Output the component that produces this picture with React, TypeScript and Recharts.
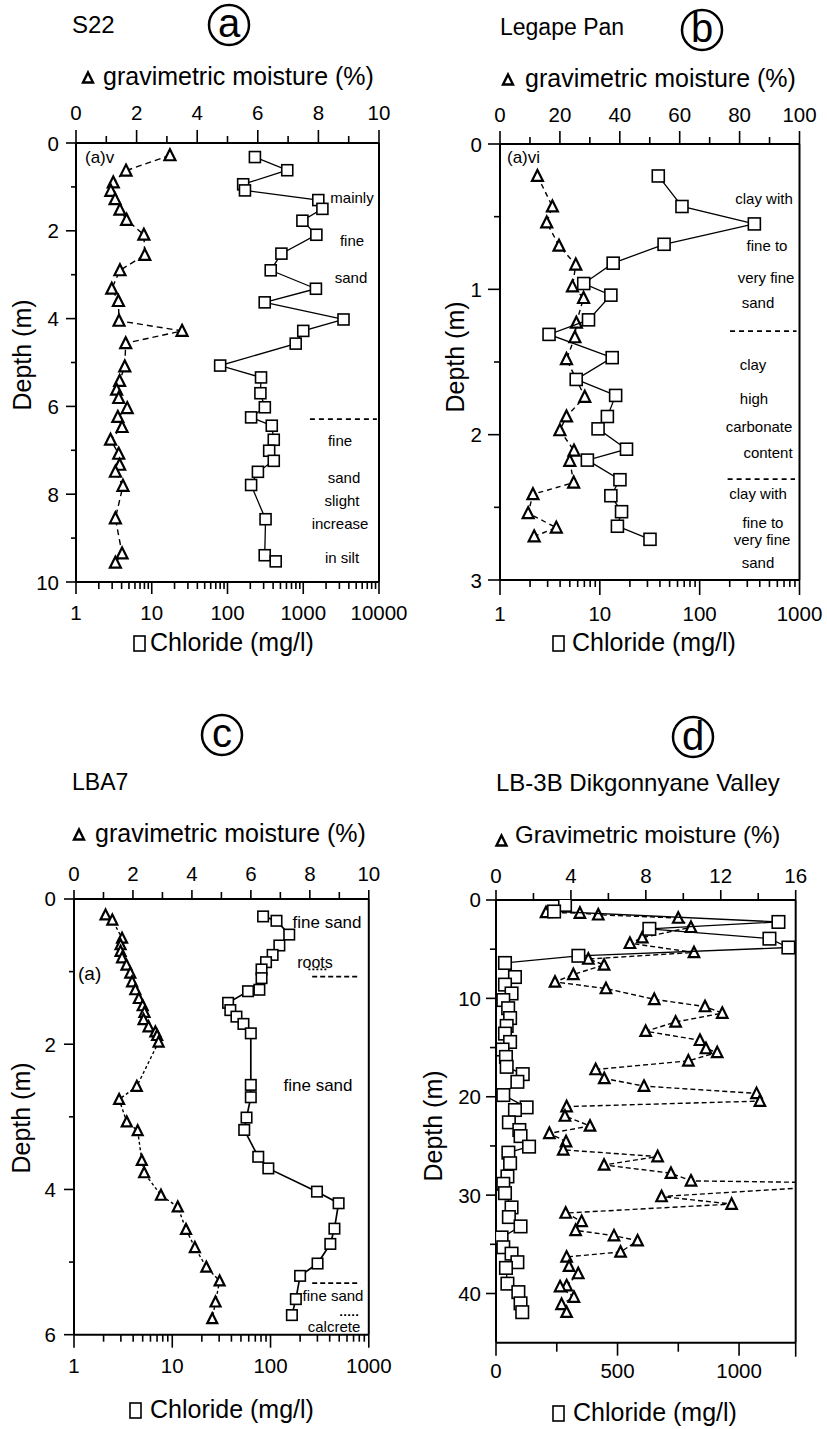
import React from "react";
import { ScatterChart, Scatter, XAxis, YAxis, ReferenceLine } from "recharts";

const FONT = '"Liberation Sans", Arial, Helvetica, sans-serif';

// (a) S22 — depth (m) vs gravimetric moisture (%) and chloride (mg/l)
const aMoistDepth = [0.28, 0.63, 0.9, 1.09, 1.28, 1.52, 1.75, 2.09, 2.55, 2.9, 3.32, 3.6, 4.05, 4.28, 4.56, 5.09, 5.42, 5.62, 5.81, 6.04, 6.24, 6.47, 6.76, 7.08, 7.33, 7.49, 7.81, 8.55, 9.35, 9.56];
const aMoist = [3.1, 1.65, 1.23, 1.15, 1.29, 1.45, 1.67, 2.24, 2.27, 1.45, 1.18, 1.4, 1.42, 3.5, 1.64, 1.61, 1.44, 1.34, 1.41, 1.69, 1.38, 1.52, 1.14, 1.41, 1.44, 1.3, 1.55, 1.3, 1.52, 1.3];
const aClDepth = [0.32, 0.62, 0.94, 1.08, 1.3, 1.5, 1.77, 2.09, 2.52, 2.9, 3.32, 3.63, 4.02, 4.28, 4.57, 5.07, 5.34, 5.7, 6.02, 6.25, 6.44, 6.76, 7.01, 7.24, 7.49, 7.79, 8.57, 9.39, 9.53];
const aCl = [230, 615, 161, 170, 1580, 1790, 975, 1490, 515, 372, 1470, 310, 3400, 1000, 795, 80, 277, 272, 311, 205, 384, 408, 355, 408, 252, 205, 318, 310, 433];

// (b) Legape Pan
const bMoistDepth = [0.22, 0.43, 0.54, 0.7, 0.83, 0.98, 1.06, 1.23, 1.33, 1.48, 1.74, 1.875, 1.97, 2.11, 2.18, 2.33, 2.41, 2.54, 2.64, 2.7];
const bMoist = [12.5, 17.5, 15.6, 19.7, 25.3, 24.2, 27.9, 25.5, 25.0, 22.2, 28.3, 22.2, 20.0, 24.7, 23.3, 24.6, 11.0, 9.4, 18.8, 11.4];
const bClDepth = [0.22, 0.43, 0.55, 0.69, 0.82, 0.96, 1.04, 1.21, 1.31, 1.47, 1.62, 1.73, 1.875, 1.96, 2.1, 2.175, 2.31, 2.42, 2.53, 2.63, 2.72];
const bCl = [38.5, 66.5, 353, 44, 13.6, 6.9, 12.9, 7.7, 3.1, 13.3, 5.8, 14.4, 11.9, 9.6, 18.5, 7.5, 15.9, 12.9, 16.5, 15.0, 31.8];

// (c) LBA7
const cMoistDepth = [0.22, 0.29, 0.54, 0.63, 0.72, 0.81, 0.91, 1.02, 1.14, 1.25, 1.37, 1.47, 1.56, 1.66, 1.76, 1.83, 1.88, 1.97, 2.58, 2.76, 3.07, 3.19, 3.6, 3.77, 4.08, 4.24, 4.55, 4.8, 5.07, 5.26, 5.55, 5.78];
const cMoist = [1.07, 1.3, 1.63, 1.58, 1.58, 1.63, 1.78, 1.91, 1.97, 2.08, 2.2, 2.33, 2.39, 2.36, 2.53, 2.76, 2.82, 2.87, 2.13, 1.53, 1.79, 2.16, 2.3, 2.38, 2.95, 3.52, 3.8, 4.1, 4.49, 4.94, 4.8, 4.69];
const cClDepth = [0.24, 0.3, 0.49, 0.64, 0.77, 0.87, 0.97, 1.09, 1.25, 1.27, 1.43, 1.53, 1.62, 1.72, 1.85, 2.56, 2.73, 3.01, 3.18, 3.55, 3.71, 4.03, 4.19, 4.54, 4.75, 5.02, 5.19, 5.51, 5.73];
const cCl = [84, 115, 155, 123, 105, 90, 81, 81, 77, 59, 37, 39, 45, 53, 63, 63, 63, 57, 54, 75, 95, 297, 493, 447, 406, 301, 200, 181, 165];

// (d) LB-3B Dikgonnyane Valley (one moisture reading near 29 m is off the scale)
const dMoistDepth = [1.27, 1.33, 1.5, 1.83, 2.77, 3.83, 4.4, 5.33, 6.0, 6.6, 7.57, 8.33, 9.0, 10.1, 10.83, 11.5, 12.4, 13.34, 14.26, 15.1, 15.5, 16.35, 17.23, 18.14, 18.92, 19.66, 20.44, 21.0, 21.96, 22.97, 23.72, 24.56, 25.4, 26.08, 26.93, 27.77, 28.55, 28.8, 30.14, 30.91, 31.82, 32.67, 33.58, 34.12, 34.63, 35.78, 36.28, 37.23, 37.97, 39.2, 39.3, 40.37, 41.1, 41.9];
const dMoist = [2.67, 4.48, 5.46, 9.73, 10.41, 7.81, 7.15, 10.57, 4.93, 5.77, 4.13, 3.15, 5.87, 8.45, 11.16, 12.08, 9.59, 7.99, 10.89, 11.21, 11.81, 10.27, 5.32, 5.78, 7.9, 13.91, 14.09, 3.77, 3.68, 5.02, 2.85, 3.74, 3.59, 8.63, 5.77, 9.34, 10.41, 20.3, 8.84, 12.58, 3.72, 4.57, 4.25, 6.3, 7.56, 6.65, 3.77, 3.9, 4.39, 3.77, 3.42, 4.16, 3.5, 3.77];
const dClDepth = [0.5, 1.17, 2.23, 2.93, 3.93, 4.83, 5.67, 6.4, 7.83, 8.6, 9.5, 10.17, 11.0, 12.0, 12.8, 13.58, 14.43, 15.2, 15.95, 16.96, 17.7, 18.48, 19.83, 21.08, 21.35, 22.6, 23.38, 24.0, 25.07, 25.68, 26.76, 28.1, 28.85, 29.8, 31.25, 32.23, 33.18, 34.3, 35.3, 35.95, 36.82, 37.4, 39.0, 39.86, 41.0, 41.9];
const dCl = [284, 239, 1162, 631, 1125, 1203, 339, 37, 78, 37, 64, 30, 50, 58, 44, 37, 58, 27, 41, 44, 110, 88, 30, 126, 78, 53, 96, 101, 136, 51, 58, 47, 30, 37, 64, 53, 101, 23, 30, 64, 88, 41, 47, 92, 101, 108];

// ticks
const aMoistTicks = [0, 1, 2, 3, 4, 5, 6, 7, 8, 9, 10];
const aMoistLabels = [0, 2, 4, 6, 8, 10];
const aClDecades = [1, 10, 100, 1000, 10000];
const aDepthTicks = [0, 1, 2, 3, 4, 5, 6, 7, 8, 9, 10];
const aDepthLabels = [0, 2, 4, 6, 8, 10];
const bMoistTicks = [0, 10, 20, 30, 40, 50, 60, 70, 80, 90, 100];
const bMoistLabels = [0, 20, 40, 60, 80, 100];
const bClDecades = [1, 10, 100, 1000];
const bDepthTicks = [0, 0.5, 1, 1.5, 2, 2.5, 3];
const bDepthLabels = [0, 1, 2, 3];
const cMoistTicks = [0, 1, 2, 3, 4, 5, 6, 7, 8, 9, 10];
const cMoistLabels = [0, 2, 4, 6, 8, 10];
const cClDecades = [1, 10, 100, 1000];
const cDepthTicks = [0, 1, 2, 3, 4, 5, 6];
const cDepthLabels = [0, 2, 4, 6];
const dMoistTicks = [0, 2, 4, 6, 8, 10, 12, 14, 16];
const dMoistLabels = [0, 4, 8, 12, 16];
const dClMax = 1233;
const dClTicks = [0, 250, 500, 750, 1000, dClMax];
const dClLabels = [0, 500, 1000];
const dDepthTicks = [0, 5, 10, 15, 20, 25, 30, 35, 40];
const dDepthLabels = [0, 10, 20, 30, 40];
const logMinor = [2, 3, 4, 5, 6, 7, 8, 9];

function logTicks(decades: number[]) {
  const out: number[] = [];
  decades.forEach((d, i) => {
    out.push(d);
    if (i < decades.length - 1) logMinor.forEach((k) => out.push(d * k));
  });
  return out;
}

const zip = (ds: number[], vs: number[], key: string) => ds.map((d, i) => ({ d, [key]: vs[i] }));

type Side = "top" | "bottom" | "left" | "right";

function makeTick(side: Side, len: (v: number) => number, labels: number[], off: number) {
  return (p: any) => {
    const { x, y, payload } = p;
    const v = payload.value;
    const l = len(v);
    let x2 = x, y2 = y, tx = x, ty = y;
    let anchor = "middle", base = "alphabetic";
    if (side === "top") { y2 = y - l; ty = y - off; }
    if (side === "bottom") { y2 = y + l; ty = y + off; }
    if (side === "left") { x2 = x - l; tx = x - off; anchor = "end"; base = "central"; }
    if (side === "right") { x2 = x + l; }
    return (
      <g>
        <line x1={x} y1={y} x2={x2} y2={y2} stroke="#000" strokeWidth={1.6} />
        {labels.includes(v) && (
          <text x={tx} y={ty} textAnchor={anchor as any} dominantBaseline={base as any} fontSize={20.5} fontFamily={FONT} fill="#000">
            {v}
          </text>
        )}
      </g>
    );
  };
}

const triShape = (s: number) => (p: any) => {
  const { cx, cy } = p;
  if (cx == null || cy == null) return <g />;
  return (
    <path
      d={`M${cx},${cy - s * 0.55}L${cx + s / 2},${cy + s * 0.45}L${cx - s / 2},${cy + s * 0.45}Z`}
      fill="#fff"
      stroke="#000"
      strokeWidth={2.2}
    />
  );
};

const sqShape = (s: number) => (p: any) => {
  const { cx, cy } = p;
  if (cx == null || cy == null) return <g />;
  return <rect x={cx - s / 2} y={cy - s / 2} width={s} height={s} fill="#fff" stroke="#000" strokeWidth={1.6} />;
};

const axisLine = { stroke: "#000", strokeWidth: 2 };

type Seg = { x: [number, number]; y: number; dash: string };

type Cfg = {
  box: [number, number, number, number];
  mDomain: [number, number]; mTicks: number[]; mLabels: number[]; mLen: (v: number) => number;
  cLog: boolean; cDomain: [number, number]; cTicks: number[]; cLabels: number[]; cLen: (v: number) => number;
  dDomain: [number, number]; dTicks: number[]; dLabels: number[]; lLen: (v: number) => number;
  rTicks: number[] | null; rLen: (v: number) => number;
  off: [number, number, number];
  tri: any[]; sq: any[]; triSize: number; sqSize: number; triDash: string; sqWidth: number;
  refs: Seg[];
};

const panels: Cfg[] = [
  {
    box: [76, 143, 379, 582],
    mDomain: [0, 10], mTicks: aMoistTicks, mLabels: aMoistLabels, mLen: (v) => (v % 2 === 0 ? 13 : 7),
    cLog: true, cDomain: [1, 10000], cTicks: logTicks(aClDecades), cLabels: aClDecades, cLen: (v) => (aClDecades.includes(v) ? 12 : 7),
    dDomain: [0, 10], dTicks: aDepthTicks, dLabels: aDepthLabels, lLen: (v) => (v % 2 === 0 ? 10 : 5),
    rTicks: aDepthTicks, rLen: (v) => (v % 2 === 0 ? 14 : 8),
    off: [23, 38, 17],
    tri: zip(aMoistDepth, aMoist, "m"), sq: zip(aClDepth, aCl, "c"),
    triSize: 11, sqSize: 11, triDash: "6 4", sqWidth: 1.3,
    refs: [{ x: [7.72, 9.93], y: 6.29, dash: "5 4" }],
  },
  {
    box: [500, 144, 799.5, 580],
    mDomain: [0, 100], mTicks: bMoistTicks, mLabels: bMoistLabels, mLen: (v) => (v % 20 === 0 ? 13 : 7),
    cLog: true, cDomain: [1, 1000], cTicks: logTicks(bClDecades), cLabels: bClDecades, cLen: (v) => (bClDecades.includes(v) ? 15 : 7),
    dDomain: [0, 3], dTicks: bDepthTicks, dLabels: bDepthLabels, lLen: (v) => (Number.isInteger(v) ? 12 : 6),
    rTicks: bDepthTicks, rLen: (v) => (Number.isInteger(v) ? 13 : 7),
    off: [22, 41, 18],
    tri: zip(bMoistDepth, bMoist, "m"), sq: zip(bClDepth, bCl, "c"),
    triSize: 11, sqSize: 12, triDash: "5 4", sqWidth: 1.3,
    refs: [
      { x: [76.8, 99], y: 1.287, dash: "5 4" },
      { x: [76, 98.5], y: 2.306, dash: "5 4" },
    ],
  },
  {
    box: [73.7, 899.3, 368.5, 1335],
    mDomain: [0, 10], mTicks: cMoistTicks, mLabels: cMoistLabels, mLen: (v) => (v % 2 === 0 ? 9 : 7),
    cLog: true, cDomain: [1, 1000], cTicks: logTicks(cClDecades), cLabels: cClDecades, cLen: (v) => (cClDecades.includes(v) ? 13 : 7),
    dDomain: [0, 6], dTicks: cDepthTicks, dLabels: cDepthLabels, lLen: (v) => (v % 2 === 0 ? 10 : 5),
    rTicks: cDepthTicks, rLen: (v) => (v % 2 === 0 ? 12 : 7),
    off: [17.5, 38, 18],
    tri: zip(cMoistDepth, cMoist, "m"), sq: zip(cClDepth, cCl, "c"),
    triSize: 10, sqSize: 10.5, triDash: "3 2.5", sqWidth: 1.7,
    refs: [
      { x: [8.08, 9.64], y: 1.07, dash: "5 3" },
      { x: [7.95, 8.63], y: 0.97, dash: "2 2" },
      { x: [8.08, 9.71], y: 5.29, dash: "5 3" },
      { x: [9.03, 9.64], y: 5.73, dash: "2 2" },
    ],
  },
  {
    box: [496, 900, 795.7, 1342.7],
    mDomain: [0, 16], mTicks: dMoistTicks, mLabels: dMoistLabels, mLen: (v) => (v % 4 === 0 ? 10 : 7),
    cLog: false, cDomain: [0, dClMax], cTicks: dClTicks, cLabels: dClLabels, cLen: (v) => (v === dClMax ? 14 : v % 500 === 0 ? 13 : 9),
    dDomain: [0, 45], dTicks: dDepthTicks, dLabels: dDepthLabels, lLen: (v) => (v % 10 === 0 ? 10 : 6),
    rTicks: null, rLen: () => 0,
    off: [17, 35.6, 15],
    tri: zip(dMoistDepth, dMoist, "m"), sq: zip(dClDepth, dCl, "c"),
    triSize: 10.5, sqSize: 12.5, triDash: "5 3", sqWidth: 1.3,
    refs: [],
  },
];

const L = 70, R = 28, T = 50, B = 55;

function Panel({ cfg }: { cfg: Cfg }) {
  const [x0, y0, x1, y1] = cfg.box;
  const width = x1 - x0 + L + R;
  const height = y1 - y0 + T + B;
  return (
    <div style={{ position: "absolute", left: x0 - L, top: y0 - T }}>
      <ScatterChart width={width} height={height} margin={{ top: 0, right: 0, bottom: 0, left: 0 }}>
        <XAxis
          xAxisId="m" orientation="top" dataKey="m" type="number" domain={cfg.mDomain} ticks={cfg.mTicks}
          interval={0} height={T} tickSize={0} tickMargin={0} tickLine={false} axisLine={axisLine}
          tick={makeTick("top", cfg.mLen, cfg.mLabels, cfg.off[0])} allowDataOverflow
        />
        <XAxis
          xAxisId="c" orientation="bottom" dataKey="c" type="number" scale={cfg.cLog ? "log" : "linear"}
          domain={cfg.cDomain} ticks={cfg.cTicks} interval={0} height={B} tickSize={0} tickMargin={0}
          tickLine={false} axisLine={axisLine} tick={makeTick("bottom", cfg.cLen, cfg.cLabels, cfg.off[1])} allowDataOverflow
        />
        <YAxis
          yAxisId="d" dataKey="d" type="number" reversed domain={cfg.dDomain} ticks={cfg.dTicks} interval={0}
          width={L} tickSize={0} tickMargin={0} tickLine={false} axisLine={axisLine}
          tick={makeTick("left", cfg.lLen, cfg.dLabels, cfg.off[2])} allowDataOverflow
        />
        <YAxis
          yAxisId="r" orientation="right" dataKey="d" type="number" reversed domain={cfg.dDomain}
          ticks={cfg.rTicks ?? cfg.dTicks} interval={0} width={R} tickSize={0} tickMargin={0} tickLine={false}
          axisLine={axisLine} tick={cfg.rTicks ? makeTick("right", cfg.rLen, [], 0) : false}
        />
        {cfg.refs.map((s, i) => (
          <ReferenceLine
            key={i} xAxisId="m" yAxisId="d" ifOverflow="visible"
            segment={[{ x: s.x[0], y: s.y }, { x: s.x[1], y: s.y }]}
            stroke="#000" strokeWidth={1.8} strokeDasharray={s.dash}
          />
        ))}
        <Scatter
          xAxisId="m" yAxisId="d" data={cfg.tri} shape={triShape(cfg.triSize)} lineType="joint"
          line={{ stroke: "#000", strokeWidth: 1.4, strokeDasharray: cfg.triDash }} isAnimationActive={false}
        />
        <Scatter
          xAxisId="c" yAxisId="d" data={cfg.sq} shape={sqShape(cfg.sqSize)} lineType="joint"
          line={{ stroke: "#000", strokeWidth: cfg.sqWidth }} isAnimationActive={false}
        />
      </ScatterChart>
    </div>
  );
}

function Circled({ cx, cy, base, ch }: { cx: number; cy: number; base: number; ch: string }) {
  return (
    <g>
      <circle cx={cx} cy={cy} r={20} fill="none" stroke="#000" strokeWidth={2.5} />
      <text x={cx} y={base} textAnchor="middle" fontSize={40}>{ch}</text>
    </g>
  );
}

function MoistTitle({ tx, ty, x, base, text, size = 25 }: any) {
  return (
    <g>
      <path d={`M${tx},${ty - 5.5}L${tx + 5},${ty + 4.5}L${tx - 5},${ty + 4.5}Z`} fill="#fff" stroke="#000" strokeWidth={2.4} />
      <text x={x} y={base} fontSize={size}>{text}</text>
    </g>
  );
}

function ClTitle({ rx, x, base }: any) {
  return (
    <g>
      <rect x={rx} y={base - 15} width={11} height={15} fill="#fff" stroke="#000" strokeWidth={1.6} />
      <text x={x} y={base} fontSize={25}>Chloride (mg/l)</text>
    </g>
  );
}

function DepthTitle({ x, y }: { x: number; y: number }) {
  return (
    <text x={x} y={y} fontSize={25} textAnchor="middle" dominantBaseline="central" transform={`rotate(-90 ${x} ${y})`}>
      Depth (m)
    </text>
  );
}

function Note({ x, y, t, s = 15, anchor = "middle" }: any) {
  return (
    <text x={x} y={y} fontSize={s} textAnchor={anchor} dominantBaseline="central">{t}</text>
  );
}

export default function App() {
  return (
    <div style={{ position: "absolute", left: 0, top: 0, width: 827, height: 1429, background: "#fff", overflow: "hidden" }}>
      {panels.map((p, i) => (
        <Panel key={i} cfg={p} />
      ))}
      <svg width={827} height={1429} style={{ position: "absolute", left: 0, top: 0, pointerEvents: "none" }} fontFamily={FONT} fill="#000">
        {/* (a) */}
        <text x={72} y={33} fontSize={24}>S22</text>
        <Circled cx={229} cy={25} base={37} ch="a" />
        <MoistTitle tx={88} ty={78} x={103} base={85} text="gravimetric moisture (%)" />
        <ClTitle rx={134} x={150} base={651} />
        <DepthTitle x={22} y={355} />
        <Note x={85} y={157} t="(a)v" s={17} anchor="start" />
        <Note x={352} y={197} t="mainly" />
        <Note x={352} y={240} t="fine" />
        <Note x={351} y={277} t="sand" />
        <Note x={340} y={440} t="fine" />
        <Note x={344} y={477} t="sand" />
        <Note x={342} y={500} t="slight" />
        <Note x={340} y={523} t="increase" />
        <Note x={342} y={557} t="in silt" />

        {/* (b) */}
        <text x={500} y={35} fontSize={23}>Legape Pan</text>
        <Circled cx={702} cy={30} base={42} ch="b" />
        <MoistTitle tx={508} ty={80} x={525} base={87} text="gravimetric moisture (%)" />
        <ClTitle rx={553} x={572} base={651} />
        <DepthTitle x={455} y={357} />
        <Note x={507} y={157} t="(a)vi" s={17} anchor="start" />
        <Note x={764} y={198} t="clay with" />
        <Note x={767} y={245} t="fine to" />
        <Note x={766} y={277} t="very fine" />
        <Note x={758} y={302} t="sand" />
        <Note x={753} y={364} t="clay" />
        <Note x={754} y={398} t="high" />
        <Note x={759} y={426} t="carbonate" />
        <Note x={768} y={452} t="content" />
        <Note x={758} y={493} t="clay with" />
        <Note x={763} y={522} t="fine to" />
        <Note x={762} y={539} t="very fine" />
        <Note x={758} y={562} t="sand" />

        {/* (c) */}
        <text x={72} y={790} fontSize={23}>LBA7</text>
        <Circled cx={222} cy={735} base={747} ch="c" />
        <MoistTitle tx={79} ty={835} x={95} base={842} text="gravimetric moisture (%)" />
        <ClTitle rx={130} x={150} base={1418} />
        <DepthTitle x={21} y={1118} />
        <Note x={78} y={973} t="(a)" s={19} anchor="start" />
        <Note x={327} y={922} t="fine sand" s={17} />
        <Note x={315} y={962} t="roots" s={16} />
        <Note x={318} y={1085} t="fine sand" s={17} />
        <Note x={333} y={1295} t="fine sand" s={15} />
        <Note x={334} y={1326} t="calcrete" s={15} />

        {/* (d) */}
        <text x={496} y={791} fontSize={24}>LB-3B Dikgonnyane Valley</text>
        <Circled cx={693} cy={737} base={750} ch="d" />
        <MoistTitle tx={501.5} ty={841} x={515} base={843} text="Gravimetric moisture (%)" size={24} />
        <ClTitle rx={553} x={573} base={1421} />
        <DepthTitle x={433} y={1126} />
      </svg>
    </div>
  );
}
